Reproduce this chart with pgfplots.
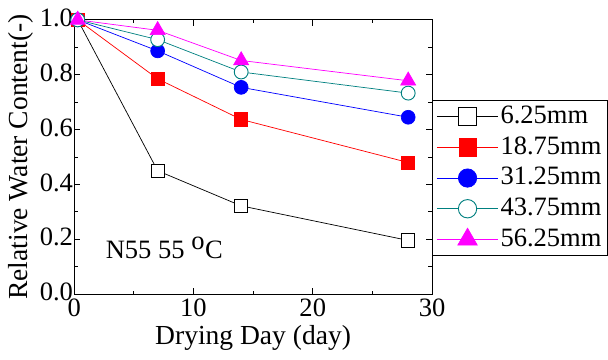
\documentclass[border=0pt]{standalone}
\usepackage{pgfplots}
\pgfplotsset{compat=1.18}
\usepackage{fontspec}
\setmainfont{Liberation Serif}
\definecolor{cteal}{RGB}{0,128,128}
\definecolor{cmag}{RGB}{255,0,255}
\definecolor{cred}{RGB}{255,0,0}
\definecolor{cblue}{RGB}{0,0,255}
\begin{document}
\fontsize{26}{30}\selectfont
\begin{tikzpicture}
\begin{axis}[
  scale only axis,
  width=351pt, height=269pt,
  xmin=0, xmax=30, ymin=0, ymax=1.0,
  xtick={0,10,20,30},
  ytick={0,0.2,0.4,0.6,0.8,1.0},
  minor x tick num=1,
  minor y tick num=1,
  tick align=inside,
  major tick length=6pt,
  minor tick length=3.5pt,
  ticklabel style={font=\fontsize{26}{30}\selectfont},
  /pgf/number format/assume math mode=true,
  yticklabel style={/pgf/number format/fixed,/pgf/number format/fixed zerofill,/pgf/number format/precision=1, inner xsep=1pt, yshift=2pt},
  xticklabel style={inner ysep=4pt},
  xlabel={Drying Day (day)},
  ylabel={Relative Water Content(-)},
  label style={font=\fontsize{27}{30}\selectfont},
  xlabel style={yshift=4pt},
  ylabel style={yshift=-4pt},
  axis line style={line width=0.9pt},
  every tick/.style={black, line width=0.8pt},
  clip=false,
  legend style={at={(1,0.14)}, anchor=south west, draw=black, line width=0.9pt,
    font=\fontsize{26}{30}\selectfont, row sep=5pt, inner xsep=4pt, inner ysep=3pt,
    cells={anchor=west}},
  legend image code/.code={\draw[mark repeat=2,mark phase=2] plot coordinates {(0pt,0pt)(30pt,0pt)(60pt,0pt)};},
  every axis plot/.append style={line width=0.7pt},
]
\addlegendimage{black, mark=square*, mark options={fill=white, line width=0.9pt}, mark size=8.5pt}
\addlegendentry{6.25mm}
\addlegendimage{cred, mark=square*, mark options={fill=cred}, mark size=8.5pt}
\addlegendentry{18.75mm}
\addlegendimage{cblue, mark=*, mark options={fill=cblue}, mark size=9pt}
\addlegendentry{31.25mm}
\addlegendimage{cteal, mark=*, mark options={fill=white, line width=0.9pt}, mark size=9pt}
\addlegendentry{43.75mm}
\addlegendimage{cmag, mark=triangle*, mark options={fill=cmag}, mark size=11pt}
\addlegendentry{56.25mm}

\addplot[forget plot, black, mark=square*, mark options={fill=white, line width=0.9pt}, mark size=6.5pt]
  coordinates {(0.3,1.0) (7,0.45) (14,0.322) (28,0.196)};
\addplot[forget plot, cred, mark=square*, mark options={fill=cred}, mark size=6.5pt]
  coordinates {(0.3,1.0) (7,0.785) (14,0.637) (28,0.48)};
\addplot[forget plot, cblue, mark=*, mark options={fill=cblue}, mark size=6.8pt]
  coordinates {(0.3,1.0) (7,0.887) (14,0.754) (28,0.645)};
\addplot[forget plot, cteal, mark=*, mark options={fill=white, line width=0.9pt}, mark size=6.8pt]
  coordinates {(0.3,1.0) (7,0.928) (14,0.81) (28,0.733)};
\addplot[forget plot, cmag, mark=triangle*, mark options={fill=cmag}, mark size=8.5pt]
  coordinates {(0.3,1.0) (7,0.962) (14,0.852) (28,0.778)};

\node[anchor=west, font=\fontsize{26}{30}\selectfont] at (axis cs:1.9,0.17) {N55 55 $^{\textrm{o}}$C};
\end{axis}
\end{tikzpicture}
\end{document}
